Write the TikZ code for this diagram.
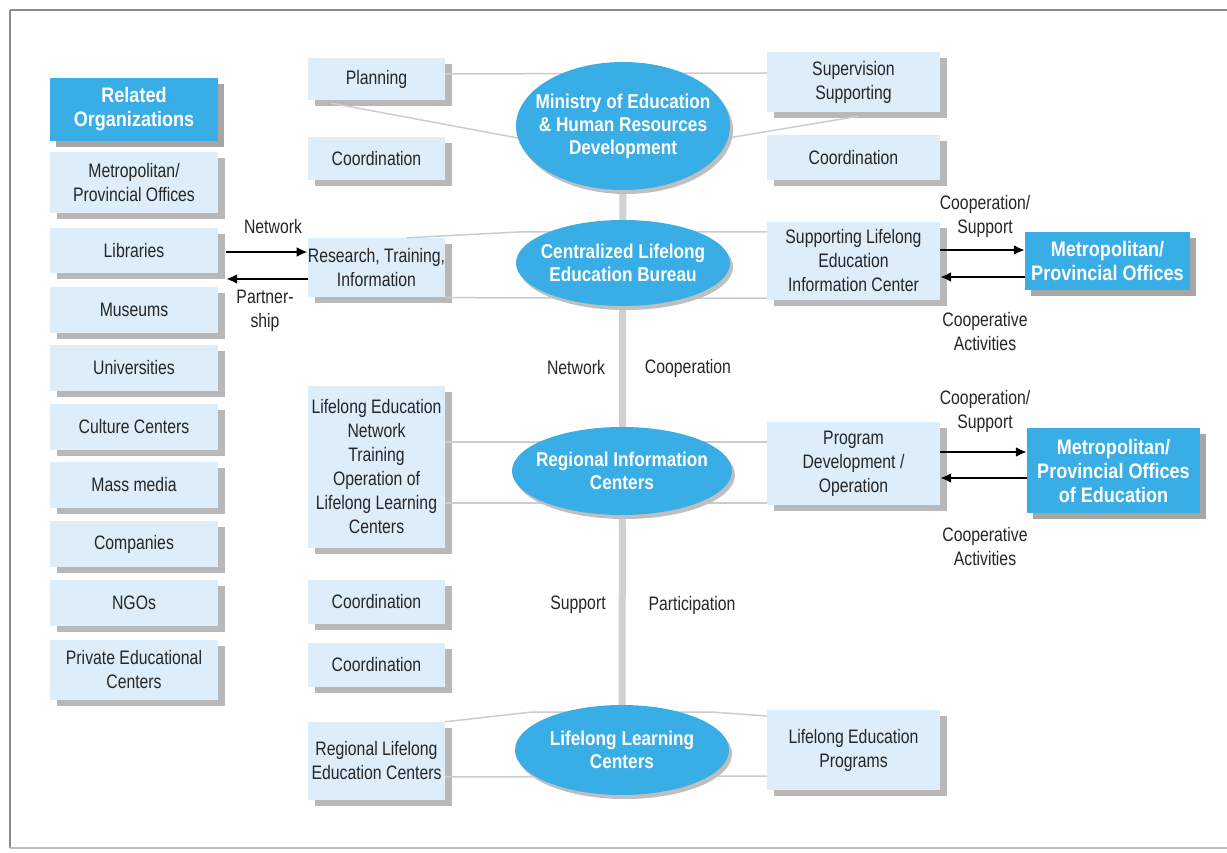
\documentclass[tikz,border=0pt]{standalone}
\usepackage{fontspec}
\setmainfont{Liberation Sans}[FakeStretch=0.86]
\newfontfamily\regf{Liberation Sans}[FakeStretch=0.81]
\usetikzlibrary{shapes.geometric,shadows,arrows.meta}
\definecolor{boxfill}{HTML}{DDEDFA}
\definecolor{bluefill}{HTML}{38ADE6}
\definecolor{txt}{HTML}{262626}
\definecolor{connc}{HTML}{C9CDD2}
\begin{document}
\begin{tikzpicture}[x=1pt,y=-1pt,
  lbox/.style={fill=boxfill, align=center, inner sep=0pt, text=txt,
    font=\regf\fontsize{19.5}{24}\selectfont,
    drop shadow={shadow xshift=7pt, shadow yshift=-6pt, fill=black!28, opacity=1}},
  bbox/.style={fill=bluefill, align=center, inner sep=0pt, text=white,
    font=\bfseries\fontsize{21}{24}\selectfont,
    drop shadow={shadow xshift=6pt, shadow yshift=-6pt, fill=black!35, opacity=1}},
  ell/.style={ellipse, fill=bluefill, inner sep=0pt,
    drop shadow={shadow xshift=3pt, shadow yshift=-4pt, fill=black!25, opacity=1}},
  etext/.style={align=center, inner sep=0pt, text=white,
    font=\bfseries\fontsize{20}{23}\selectfont},
  connl/.style={draw=connc, line width=1.5pt},
  vbar/.style={draw=black!18, line width=7pt},
  arr/.style={-{Latex[length=11pt,width=10pt]}, line width=2.8pt, black},
  lbl/.style={align=center, inner sep=0pt, text=txt, font=\regf\fontsize{19.5}{24}\selectfont}
]
\useasboundingbox (0,0) rectangle (1227,853);
\fill[white] (0,0) rectangle (1227,853);
% frame
\coordinate (ftl) at (10,10);
\coordinate (ftr) at (1227,10);
\coordinate (fbl) at (10,848);
\coordinate (fbr) at (1227,848);
\draw[black!45, line width=2.5pt] (ftl) -- (ftr);
\draw[black!45, line width=2.5pt] (ftl) -- (fbl);
\draw[black!25, line width=1.2pt] (fbl) -- (fbr);

% left column
\node[bbox, minimum width=168, minimum height=63] (rel) at (134,109.5) {Related\\Organizations};
\node[lbox, minimum width=168, minimum height=61] (met) at (134,182.5) {Metropolitan/\\Provincial Offices};
\node[lbox, minimum width=168, minimum height=45] (lib) at (134,250.5) {Libraries};
\node[lbox, minimum width=168, minimum height=46] (mus) at (134,310) {Museums};
\node[lbox, minimum width=168, minimum height=46] (uni) at (134,368) {Universities};
\node[lbox, minimum width=168, minimum height=46] (cul) at (134,427) {Culture Centers};
\node[lbox, minimum width=168, minimum height=46] (mas) at (134,485) {Mass media};
\node[lbox, minimum width=168, minimum height=46] (com) at (134,544) {Companies};
\node[lbox, minimum width=168, minimum height=46] (ngo) at (134,603) {NGOs};
\node[lbox, minimum width=168, minimum height=60] (pri) at (134,670) {Private Educational\\Centers};

% middle-left column
\node[lbox, minimum width=137, minimum height=42] (plan) at (376.5,79) {Planning};
\node[lbox, minimum width=137, minimum height=43] (coA) at (376.5,158.5) {Coordination};
\node[lbox, minimum width=137, minimum height=59] (res) at (376.5,267.5) {Research, Training,\\Information};
\node[lbox, minimum width=137, minimum height=162] (lnet) at (376.5,467) {Lifelong Education\\Network\\Training\\Operation of\\Lifelong Learning\\Centers};
\node[lbox, minimum width=137, minimum height=44] (coC) at (376.5,602) {Coordination};
\node[lbox, minimum width=137, minimum height=44] (coD) at (376.5,665) {Coordination};
\node[lbox, minimum width=137, minimum height=78] (rlec) at (376.5,761) {Regional Lifelong\\Education Centers};

% right column
\node[lbox, minimum width=173, minimum height=60] (sup) at (853.5,82) {Supervision\\Supporting};
\node[lbox, minimum width=173, minimum height=45] (coB) at (853.5,157.5) {Coordination};
\node[lbox, minimum width=173, minimum height=78] (slec) at (853.5,261) {Supporting Lifelong\\Education\\Information Center};
\node[lbox, minimum width=173, minimum height=83] (pdo) at (853.5,463.5) {Program\\Development /\\Operation};
\node[lbox, minimum width=173, minimum height=80] (lep) at (853.5,750) {Lifelong Education\\Programs};

% far right blue boxes
\node[bbox, minimum width=165, minimum height=58] (mpo) at (1107.5,261) {Metropolitan/\\Provincial Offices};
\node[bbox, minimum width=173, minimum height=85] (mpoe) at (1113.5,470.5) {Metropolitan/\\Provincial Offices\\of Education};

% ellipse centres
\coordinate (minc) at (623,126);
\coordinate (clbc) at (623,263);
\coordinate (ricc) at (622,471);
\coordinate (llcc) at (622,750);

% connector lines behind ellipses
\draw[connl] ([yshift=5pt]plan.east) -- ([yshift=9pt]sup.west);
\draw[connl] ([xshift=-45pt,yshift=-3pt]plan.south) -- ([xshift=-105pt,yshift=-12pt]minc) -- ([xshift=105pt,yshift=-12pt]minc) -- ([xshift=5pt,yshift=-4pt]sup.south);
\draw[connl] ([xshift=30pt]res.north) -- ([xshift=-105pt,yshift=31pt]clbc) -- ([xshift=105pt,yshift=31pt]clbc) -- ([yshift=29pt]slec.west);
\draw[connl] ([yshift=-0.5pt]res.south east) -- ([yshift=2pt]slec.south west);
\draw[connl] ([yshift=25pt]lnet.east) -- ([yshift=21.5pt]pdo.west);
\draw[connl] ([yshift=-36pt]lnet.east) -- ([yshift=-39.5pt]pdo.west);
\draw[connl] (rlec.north east) -- ([xshift=-90pt,yshift=38pt]llcc) -- ([xshift=90pt,yshift=38pt]llcc) -- ([yshift=34pt]lep.west);
\draw[connl] ([yshift=-16pt]rlec.east) -- ([yshift=-26pt]lep.west);

% vertical bar
\draw[vbar] (minc) -- (llcc);

% ellipses
\node[ell, minimum width=214, minimum height=128] (min) at (minc) {};
\node[etext] (mint) at (min.center) {Ministry of Education\\\& Human Resources\\Development};
\node[ell, minimum width=214, minimum height=86] (clb) at (clbc) {};
\node[etext] (clbt) at (clb.center) {Centralized Lifelong\\Education Bureau};
\node[ell, minimum width=220, minimum height=88] (ric) at (ricc) {};
\node[etext] (rict) at (ric.center) {Regional Information\\Centers};
\node[ell, minimum width=214, minimum height=90] (llc) at (llcc) {};
\node[etext] (llct) at (llc.center) {Lifelong Learning\\Centers};

% arrows left
\draw[arr] ([xshift=8pt,yshift=-1.5pt]lib.east) -- ([yshift=15.5pt]res.west);
\draw[arr] ([yshift=-11.5pt]res.west) -- ([xshift=8pt,yshift=-28.5pt]lib.east);
% arrows right
\draw[arr] ([yshift=11pt]slec.east) -- ([yshift=11pt]mpo.west);
\draw[arr] ([yshift=-16pt]mpo.west) -- ([yshift=-16pt]slec.east);
\draw[arr] ([yshift=11.5pt]pdo.east) -- ([yshift=18.5pt]mpoe.west);
\draw[arr] ([yshift=-7.5pt]mpoe.west) -- ([yshift=-14.5pt]pdo.east);

% labels
\node[lbl] (lnetw) at (273,227) {Network};
\node[lbl] (lpart) at (265,311) {Partner-\\ship};
\node[lbl] (lcs1) at (985,216) {Cooperation/\\Support};
\node[lbl] (lca1) at (985,332) {Cooperative\\Activities};
\node[lbl] (lcs2) at (985,411) {Cooperation/\\Support};
\node[lbl] (lca2) at (985,547) {Cooperative\\Activities};
\node[lbl] (mnet) at (576,368) {Network};
\node[lbl] (mcoop) at (688,368) {Cooperation};
\node[lbl] (msup) at (578,605) {Support};
\node[lbl] (mpar) at (692,605) {Participation};
\end{tikzpicture}
\end{document}
